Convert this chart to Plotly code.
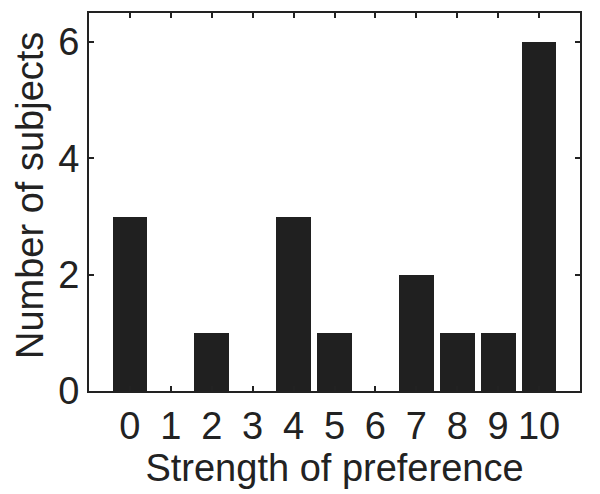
import plotly.graph_objects as go

strength = [0, 1, 2, 3, 4, 5, 6, 7, 8, 9, 10]
subjects = [3, 0, 1, 0, 3, 1, 0, 2, 1, 1, 6]
y_ticks = [0, 2, 4, 6]

fig = go.Figure()
fig.add_trace(go.Bar(x=strength, y=subjects, width=0.85,
                     marker=dict(color="#202020", line_width=0)))

axis_font = dict(family="Liberation Sans, Arial, sans-serif", size=38, color="#222")

# page has an 8px offset, so the figure is drawn a bit smaller than the window
fig.update_xaxes(range=[-1, 11], tickvals=strength, ticks="inside", ticklen=5,
                 tickwidth=2, tickcolor="#222", showline=True, linewidth=2,
                 linecolor="#222", mirror="ticks", showgrid=False, zeroline=False,
                 automargin=False, tickfont=axis_font,
                 title=dict(text="Strength of preference", font=axis_font, standoff=0))
fig.update_yaxes(range=[0, 6.5], tickvals=y_ticks, ticks="inside", ticklen=5,
                 tickwidth=2, tickcolor="#222", showline=True, linewidth=2,
                 linecolor="#222", mirror="ticks", showgrid=False, zeroline=False,
                 automargin=False, tickfont=axis_font)

# y title as annotation so it can sit closer to the left edge
fig.add_annotation(text="Number of subjects", textangle=-90, font=axis_font,
                   xref="paper", yref="paper", x=0, y=0.5, xanchor="center",
                   yanchor="middle", xshift=-59, yshift=6, showarrow=False)

fig.update_layout(width=592, height=486, plot_bgcolor="white", paper_bgcolor="white",
                  margin=dict(l=81, r=20, t=5, b=103), showlegend=False,
                  bargap=0)

fig.write_html("out.html")
